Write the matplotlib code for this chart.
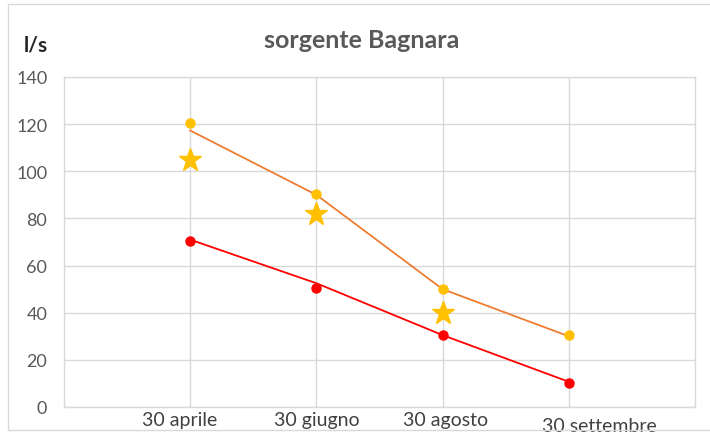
import matplotlib
matplotlib.use("Agg")
import matplotlib.pyplot as plt
from matplotlib.patches import Rectangle

# ---- data ----
categories = ["30 aprile", "30 giugno", "30 agosto", "30 settembre"]
orange_points = [120.5, 90.5, 50, 30.5]
orange_line = [117.3, 90, 50, 30]
red_points = [70.3, 50.3, 30.5, 10.3]
red_line = [71, 52.5, 30.5, 10.7]
star_values = [104.7, 82, 40]
y_ticks = [0, 20, 40, 60, 80, 100, 120, 140]

title = "sorgente Bagnara"
unit = "l/s"

# label placement tweaks (positions in category units / offsets in points)
label_dx = [-0.08, 0.0, 0.02, 0.24]
label_dy = [-3, -3, -3, -7]

plt.rcParams['font.family'] = ['Lato', 'DejaVu Sans']

fig = plt.figure(figsize=(7.1, 4.35), dpi=100)
ax = fig.add_axes([64/710, 1-408/435, (695-64)/710, (408-78)/435])

xs = list(range(1, len(categories) + 1))

ax.plot(xs, orange_line, color="#ED7D31", lw=1.3, zorder=3)
ax.plot(xs, orange_points, 'o', color="#FFC000", ms=6.5, zorder=4)
ax.plot(xs, red_line, color="#FF0000", lw=1.3, zorder=3)
ax.plot(xs, red_points, 'o', color="#FF0000", ms=6.5, zorder=4)
ax.plot(xs[:len(star_values)], star_values, '*', color="#FFC000", ms=17, zorder=5)

ax.set_xlim(0, len(categories) + 1)
ax.set_ylim(0, 140)
ax.set_yticks(y_ticks)
ax.set_yticklabels([str(v) for v in y_ticks], fontsize=13, color="#595959")
ax.set_xticks(xs)
ax.set_xticklabels([])
ax.tick_params(length=0, pad=12)
ax.grid(True, color="#D9D9D9", lw=1)
ax.set_axisbelow(True)
for s in ax.spines.values():
    s.set_color("#D9D9D9")
    s.set_linewidth(1)

for x, lab, dx, dy in zip(xs, categories, label_dx, label_dy):
    ax.annotate(lab, xy=(x + dx, 0), xycoords='data', xytext=(0, dy),
                textcoords='offset points', ha='center', va='top',
                fontsize=14, color="#404040", annotation_clip=False)

fig.text(362/710, 1-40/435, title, ha='center', va='center',
         fontsize=18, fontweight='bold', color="#595959")
fig.text(36/710, 1-45/435, unit, ha='center', va='center',
         fontsize=15, fontweight='bold', color="#262626")

fig.patches.append(Rectangle((8/710, 1-431/435), 1.2, (431-5)/435,
                             transform=fig.transFigure, fill=False,
                             edgecolor="#D9D9D9", lw=1))

fig.savefig("out.png", dpi=100)
